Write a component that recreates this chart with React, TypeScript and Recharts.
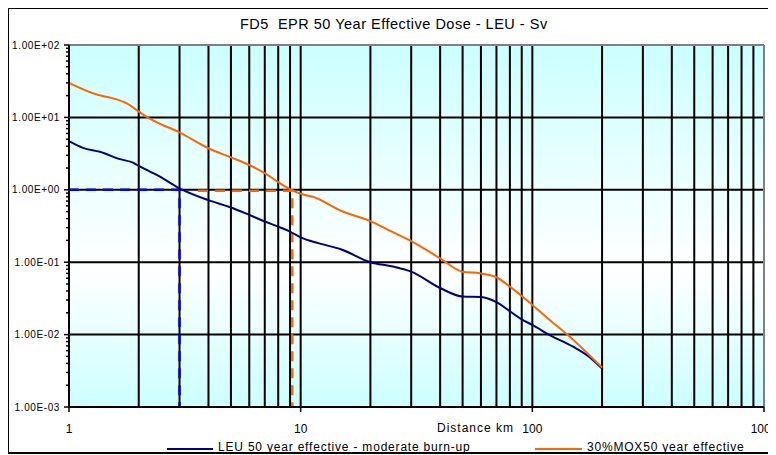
import React from 'react'
import { LineChart, Line, XAxis, YAxis, CartesianGrid, ReferenceLine } from 'recharts'

// LEU, moderate burn-up: distance (km) / 50 year effective dose (Sv)
const leuDistance = [1, 1.15, 1.36, 1.66, 1.89, 2.02, 2.47, 3, 4, 5, 6, 7, 8, 9, 10, 12, 15, 20, 25, 30, 40, 50, 60, 70, 80, 90, 100, 120, 150, 175, 200]
const leuDose = [4.7, 3.8, 3.35, 2.65, 2.37, 2.1, 1.52, 1.05, 0.72, 0.57, 0.45, 0.365, 0.31, 0.265, 0.22, 0.182, 0.15, 0.1, 0.087, 0.074, 0.044, 0.0335, 0.033, 0.028, 0.021, 0.0162, 0.0136, 0.0097, 0.0068, 0.005, 0.0034]

// 30% MOX core
const moxDistance = [1, 1.34, 1.48, 1.77, 2.02, 2.23, 3, 4, 5, 6, 7, 8, 9, 10, 11.3, 15, 20, 25, 30, 40, 50, 60, 70, 80, 100, 120, 150, 200]
const moxDose = [30, 20.4, 19, 15.7, 11.8, 9.6, 6.2, 3.75, 2.8, 2.2, 1.7, 1.28, 1.02, 0.88, 0.8, 0.51, 0.37, 0.26, 0.196, 0.113, 0.074, 0.07, 0.062, 0.046, 0.0257, 0.0155, 0.0085, 0.0035]

// 1 Sv guide lines (distance where each curve crosses 1 Sv)
const leuGuideX = [1, 3, 3]
const leuGuideY = [1, 1, 0.001]
const moxGuideX = [3.6, 9.2, 9.2]
const moxGuideY = [0.97, 0.97, 0.001]

const xDecades = [1, 10, 100, 1000]
const yDecades = [0.001, 0.01, 0.1, 1, 10, 100]
const multipliers = [1, 2, 3, 4, 5, 6, 7, 8, 9]

const xGrid = [1, 10, 100].flatMap((d) => multipliers.map((m) => m * d)).filter((v) => v > 1)
const yTicks = yDecades.slice(0, -1).flatMap((d) => multipliers.map((m) => m * d)).concat([100])
const yGrid = [0.01, 0.1, 1, 10]

const pairs = (xs: number[], ys: number[]) => xs.map((x, i) => ({ x, y: ys[i] }))

const leuData = pairs(leuDistance, leuDose)
const moxData = pairs(moxDistance, moxDose)
const leuGuide = pairs(leuGuideX, leuGuideY)
const moxGuide = pairs(moxGuideX, moxGuideY)

const FONT = '"Liberation Sans", Arial, sans-serif'

const fmtExp = (v: number) => {
  const e = Math.round(Math.log10(v))
  return `1.00E${e < 0 ? '-' : '+'}${String(Math.abs(e)).padStart(2, '0')}`
}

const isDecade = (v: number) => yDecades.some((d) => Math.abs(d - v) / d < 1e-6)

const YTick = ({ x, y, payload }: any) => {
  const major = isDecade(payload.value)
  return (
    <g>
      <line x1={x - (major ? 5 : 3)} x2={x} y1={y} y2={y} stroke="#000" strokeWidth={1.5} />
      {major && (
        <text x={x - 9} y={y} dy="0.35em" textAnchor="end" fontSize={10} letterSpacing={0.6} fontFamily={FONT} fill="#000">
          {fmtExp(payload.value)}
        </text>
      )}
    </g>
  )
}

export default function App() {
  return (
    <div style={{ position: 'relative', left: -8, top: -8, width: 776, height: 455, overflow: 'hidden', background: '#fff', fontFamily: FONT }}>
      <div style={{ position: 'absolute', left: 240, top: 16, fontSize: 14.5, lineHeight: '16px', letterSpacing: 0.5, whiteSpace: 'pre', color: '#000' }}>
        FD5  EPR 50 Year Effective Dose - LEU - Sv
      </div>

      <div style={{ position: 'absolute', left: 0, top: 0 }}>
        <LineChart width={776} height={455} margin={{ top: 45, right: 12, bottom: 18, left: 9 }}>
          <defs>
            <linearGradient id="plotBg" x1="0" y1="0" x2="0" y2="1">
              <stop offset="0%" stopColor="#ccffff" />
              <stop offset="62%" stopColor="#ffffff" />
              <stop offset="100%" stopColor="#ccffff" />
            </linearGradient>
          </defs>
          <CartesianGrid
            fill="url(#plotBg)"
            fillOpacity={1}
            stroke="#000"
            strokeWidth={2}
            verticalValues={xGrid}
            horizontalValues={yGrid}
          />
          <XAxis
            dataKey="x"
            type="number"
            scale="log"
            domain={[1, 1000]}
            allowDataOverflow
            ticks={xDecades}
            interval={0}
            height={30}
            tickSize={5}
            tickMargin={12}
            axisLine={{ stroke: '#000', strokeWidth: 2 }}
            tickLine={{ stroke: '#000', strokeWidth: 1.5 }}
            tick={{ fontSize: 12, fill: '#000', fontFamily: FONT }}
          />
          <YAxis
            type="number"
            scale="log"
            domain={[0.001, 100]}
            allowDataOverflow
            ticks={yTicks}
            interval={0}
            width={60}
            tickSize={0}
            tickMargin={0}
            tickLine={false}
            axisLine={{ stroke: '#000', strokeWidth: 2 }}
            tick={YTick}
          />
          <ReferenceLine y={100} stroke="#808080" strokeWidth={2} />
          <ReferenceLine x={1000} stroke="#808080" strokeWidth={2} />
          <Line data={moxGuide} dataKey="y" type="linear" stroke="#ff6600" strokeWidth={2.5} strokeDasharray="10 7" dot={false} isAnimationActive={false} />
          <Line data={leuGuide} dataKey="y" type="linear" stroke="#0000ff" strokeWidth={2.5} strokeDasharray="10 7" dot={false} isAnimationActive={false} />
          <Line data={leuData} dataKey="y" type="monotone" stroke="#000080" strokeWidth={2} dot={false} isAnimationActive={false} />
          <Line data={moxData} dataKey="y" type="monotone" stroke="#ff6600" strokeWidth={2} dot={false} isAnimationActive={false} />
        </LineChart>
      </div>

      <div style={{ position: 'absolute', left: 437, top: 421, fontSize: 12, lineHeight: '14px', letterSpacing: 1, whiteSpace: 'pre', color: '#000' }}>
        Distance km
      </div>

      {/* legend sits on the bottom edge of the frame */}
      <div style={{ position: 'absolute', left: 0, top: 430, width: 776, height: 24, fontSize: 12, letterSpacing: 0.8, whiteSpace: 'pre', color: '#000' }}>
        <div style={{ position: 'absolute', left: 167, top: 18, width: 46, height: 2, background: '#000080' }} />
        <div style={{ position: 'absolute', left: 218, top: 10, lineHeight: '14px' }}>LEU 50 year effective - moderate burn-up</div>
        <div style={{ position: 'absolute', left: 535, top: 18, width: 47, height: 2, background: '#ff6600' }} />
        <div style={{ position: 'absolute', left: 587, top: 10, lineHeight: '14px' }}>30%MOX50 year effective</div>
      </div>

      <div style={{ position: 'absolute', left: 7, top: 7, width: 790, height: 443, border: '2px solid #000' }} />
    </div>
  )
}
